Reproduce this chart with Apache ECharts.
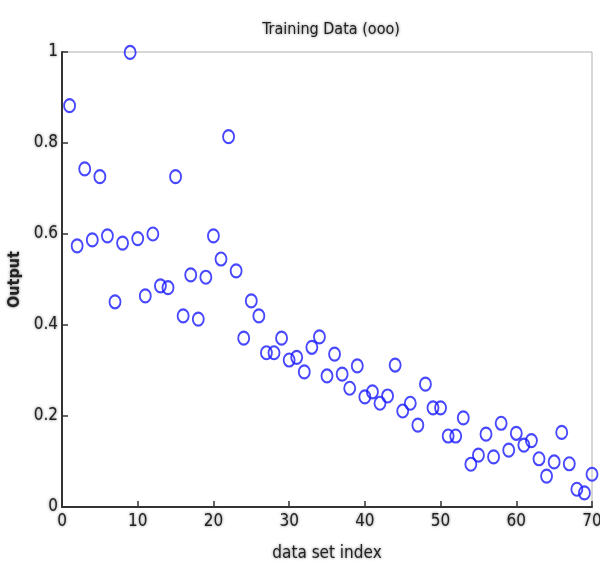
<!DOCTYPE html>
<html>
<head>
<meta charset="utf-8">
<script src="https://cdn.jsdelivr.net/npm/echarts@6/dist/echarts.min.js"></script>
<style>html,body{margin:0;padding:0;background:#fff}#c{width:600px;height:571px}</style>
</head>
<body>
<div id="c"></div>
<script>
const titleText = "Training Data (ooo)";
const xName = "data set index";
const yName = "Output";
const xTicks = [0, 10, 20, 30, 40, 50, 60, 70];
const yTicks = [0, 0.2, 0.4, 0.6, 0.8, 1];
const indices = [];
for (let i = 1; i <= 70; i++) indices.push(i);
const outputs = [
  0.882, 0.574, 0.743, 0.587, 0.726, 0.596, 0.451, 0.580, 0.999, 0.590,
  0.464, 0.600, 0.486, 0.482, 0.726, 0.420, 0.510, 0.413, 0.505, 0.596,
  0.545, 0.814, 0.519, 0.371, 0.453, 0.420, 0.339, 0.339, 0.371, 0.323,
  0.329, 0.297, 0.351, 0.374, 0.288, 0.336, 0.292, 0.261, 0.310, 0.242,
  0.253, 0.228, 0.244, 0.312, 0.211, 0.228, 0.180, 0.270, 0.218, 0.218,
  0.156, 0.156, 0.196, 0.094, 0.114, 0.160, 0.110, 0.184, 0.125, 0.162,
  0.136, 0.146, 0.106, 0.068, 0.099, 0.164, 0.095, 0.039, 0.031, 0.072
];
const points = indices.map((x, i) => [x, outputs[i]]);

const txt = {
  color: '#222',
  fontFamily: '"Liberation Sans Narrow", "DejaVu Sans Condensed", "Liberation Sans", sans-serif',
  textShadowColor: 'rgba(0,0,0,0.55)',
  textShadowBlur: 3
};

const chart = echarts.init(document.getElementById('c'), null, {renderer: 'canvas'});
chart.setOption({
  animation: false,
  backgroundColor: '#fff',
  title: {
    text: titleText,
    left: 326, top: 17, textAlign: 'center',
    textStyle: Object.assign({}, txt, {fontSize: 16, fontWeight: 'normal'})
  },
  grid: {
    left: 62, right: 8, top: 52, bottom: 64,
    outerBoundsMode: 'none', containLabel: false,
    show: true, borderColor: '#b0b0b0', borderWidth: 1, backgroundColor: '#fff'
  },
  xAxis: {
    type: 'value', min: 0, max: 70, interval: 10,
    name: xName, nameLocation: 'middle', nameGap: 38,
    nameTextStyle: Object.assign({}, txt, {fontSize: 17}),
    axisLine: {show: true, onZero: false, lineStyle: {color: '#333', width: 2}},
    axisTick: {show: true, inside: true, length: 6, lineStyle: {color: '#333', width: 1.5}},
    axisLabel: Object.assign({}, txt, {fontSize: 17, margin: 6,
      formatter: v => xTicks.includes(v) ? String(v) : ''}),
    splitLine: {show: false}
  },
  yAxis: {
    type: 'value', min: 0, max: 1, interval: 0.2,
    name: yName, nameLocation: 'middle', nameGap: 38, nameRotate: 90,
    nameTextStyle: Object.assign({}, txt, {fontSize: 16, fontWeight: 'bold'}),
    axisLine: {show: true, onZero: false, lineStyle: {color: '#333', width: 2}},
    axisTick: {show: true, inside: true, length: 6, lineStyle: {color: '#333', width: 1.5}},
    axisLabel: Object.assign({}, txt, {fontSize: 17, margin: 4,
      formatter: v => { const r = Math.round(v * 10) / 10; return yTicks.includes(r) ? String(r) : ''; }}),
    splitLine: {show: false}
  },
  series: [{
    type: 'scatter',
    data: points,
    symbol: 'circle',
    symbolSize: [11, 13],
    clip: false,
    itemStyle: {color: 'rgba(0,0,0,0)', borderColor: '#1a1aff', borderWidth: 2}
  }]
});
</script>
</body>
</html>
